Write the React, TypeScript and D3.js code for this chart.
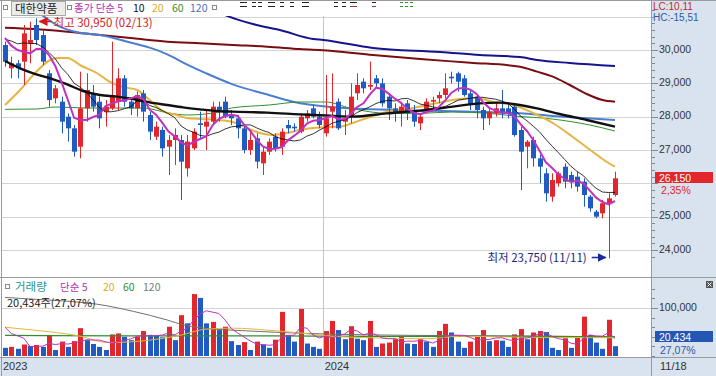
import React from 'react';
import * as d3 from 'd3';

// ---------------- DATA (weekly, 대한약품) ----------------
const firstWeek = '2023-01-09';
const opens = [30150,29450,29600,29650,30200,30750,30450,29300,28550,28450,28000,27650,27100,28250,28700,28450,28150,28250,28450,29150,28450,28250,28700,28050,27400,27600,27100,27300,27300,26450,27050,27800,27700,27850,28300,28450,28050,27950,27650,27000,27350,26600,26950,27400,27100,27750,27700,27550,27950,28250,28000,27500,28150,28450,27850,28000,28700,29050,28900,29150,29000,28600,28250,28100,28400,28200,27800,28200,28450,28550,28650,29200,29300,29150,28700,28600,28200,27950,28100,28250,28250,28300,27600,27100,27300,26750,26300,25600,26000,26500,26250,26200,26050,25600,25150,25100,25400,25650];
const highs = [30250,29800,29700,30750,30850,30950,30600,29400,28950,28600,28100,27750,29350,29300,28950,28600,28500,30250,29450,29250,28550,28750,28800,28150,27850,27700,27450,27650,27450,27450,27650,28150,28200,28450,28450,28600,28200,28050,27750,27550,27500,27100,27350,27500,27650,27900,27800,28100,28200,28350,28150,29250,29300,28550,28200,29000,29300,29150,29650,29250,29150,28700,28400,28450,28500,28350,28100,28550,28600,28750,29300,29350,29350,29250,28800,28650,28300,28300,28450,28800,28350,28400,27700,27300,27400,26850,26450,26300,26350,26600,26350,26350,26150,25650,25200,25500,25700,26350];
const lows = [29500,29150,29150,28950,29600,30150,29550,28300,28400,27500,27250,26800,26750,27850,28150,27650,27700,28200,28200,28300,28050,28000,27850,27300,27300,26800,26250,26550,25500,26200,27000,27350,27000,27750,27850,27950,27750,27350,26900,26850,26450,26250,26850,26950,26850,27500,27550,27500,27850,27950,27650,27400,27650,27600,27450,27800,28500,28700,28800,28850,28300,27900,27850,27700,27900,27700,27600,28100,28200,28400,28550,29000,28750,28600,28200,27950,27600,27750,28000,27950,27950,27400,25800,26450,26500,26000,25450,25450,25900,25850,25850,25750,25300,25150,24950,24950,23750,25600];
const closes = [29650,29600,29450,30500,30300,30300,29650,28500,28850,27850,27650,26950,28250,28800,28300,27950,28300,28600,29150,28450,28250,28650,28150,27550,27700,27050,27300,27450,26650,27250,27550,27750,27850,28300,28200,28000,27950,27650,27000,27300,26650,26950,27250,27050,27550,27650,27650,28000,28100,28000,27750,27950,28300,27650,27950,28600,28950,28850,28950,29000,28400,28250,28100,28300,28100,27850,28000,28450,28500,28650,28850,29150,29050,28650,28350,28200,27950,28150,28250,28100,28100,27450,26950,27250,26750,26500,25700,26100,26300,26050,26050,25900,25650,25250,25000,25400,25550,26150];
const volumes = [17000,19000,15000,24000,21000,23000,19000,44000,12500,30000,19000,31000,58000,33000,25000,19000,12500,45000,47000,40000,33000,40000,52000,44000,43000,39000,61000,33000,85000,68000,129000,121000,68000,71000,54000,61000,31000,23000,29000,12500,30000,24000,17000,34000,92000,44000,30000,98000,26000,19000,15000,52000,73000,54000,35000,62000,36000,33000,73000,19000,26000,28000,35000,40000,26000,25000,35000,30000,19000,52000,67000,49000,30000,17000,30000,40000,54000,31000,33000,32000,19000,45000,56000,35000,49000,52000,50000,17000,12500,37000,17000,38000,82000,44000,28000,15000,75490,20434];
// closes / volumes of the weeks just before the first drawn week (for the short averages)
const priorCloses = [30100,30300,30200,30500,30300,30750,30100,30750,30550];
const priorVolumes = [84000,40000,49000,110000];

// averages: [week index, value]
const ma20Pts = [[0,28350],[2.4,28800],[4.5,29250],[7.2,29700],[8.4,29760],[9.9,29760],[12.2,29520],[14.6,29310],[16.7,29040],[18.8,28890],[21,28800],[23,28500],[25.1,28170],[27.3,28050],[28.9,27960],[31,27930],[33.7,27900],[36.2,27840],[38.5,27660],[40.5,27510],[42.6,27450],[44.8,27510],[46.9,27600],[49,27660],[51.2,27690],[53.3,27700],[55.3,27810],[58,27990],[60.7,28140],[64.9,28260],[68.7,28410],[72.3,28530],[75,28560],[77.6,28440],[80.8,28350],[84,28110],[87.1,27810],[90.3,27390],[93.5,26940],[95.7,26640],[97,26500]];
const ma60Pts = [[0,28220],[5,28230],[8,28290],[13,28260],[18,28260],[22,28260],[26,28110],[29,28050],[34,28140],[36,28260],[42,28350],[47,28440],[51,28440],[55,28250],[61,28100],[66,28100],[71,28140],[77,28100],[81,28020],[87,27930],[93,27750],[97,27570]];
const ma120Pts = [[0,31500],[5,31150],[8.7,30700],[11.5,30530],[15.1,30450],[20.4,30200],[23,30070],[25.8,29870],[28.9,29570],[32,29300],[36.2,28970],[41.6,28670],[45.8,28450],[51.7,28290],[58.5,28220],[66.5,28180],[74.4,28150],[81.9,28100],[87.1,28020],[92.5,27950],[97,27900]];
const maBlackPts = [[0,29670],[2.4,29450],[4.5,29300],[7.2,29150],[9.9,28970],[12.4,28770],[15.1,28650],[17.8,28600],[20.4,28530],[23,28430],[25.8,28350],[28.3,28280],[31,28220],[33.7,28170],[36.2,28150],[41.7,28120],[46.9,28070],[51.7,28030],[55.3,28000],[60.7,28100],[66,28180],[71.2,28300],[75.5,28400],[78.7,28420],[80.8,28380],[84.6,28250],[88.2,28080],[92.5,27900],[97,27700]];
const maMaroonPts = [[0,30670],[4.5,30630],[9.9,30550],[15.1,30450],[20.4,30350],[25.8,30250],[31,30200],[36.2,30150],[41.7,30100],[46.9,30030],[51.7,29980],[58.5,29850],[66.5,29720],[74,29620],[81.9,29500],[84.6,29350],[87.1,29200],[89.8,28950],[92.5,28680],[95,28500],[97,28450]];
const maNavyPts = [[33,31200],[37,30910],[40,30750],[43.7,30600],[49,30330],[50.6,30300],[58.5,30060],[69.2,29940],[75.5,29850],[81.9,29790],[84.6,29700],[89.8,29610],[97,29520]];
const volMa20Pts = [[0,60000],[4.5,54000],[9.8,46000],[12.4,40000],[15.1,30000],[16.7,28000],[23,33000],[27.8,43000],[32,56000],[36.3,58000],[41.6,54000],[46.9,48000],[52.2,41000],[61.7,37000],[67,36000],[72.3,41000],[83,39000],[97,38000]];
const volMa60Pts = [[0,43000],[20,42000],[40,42000],[60,41000],[80,41000],[97,40000]];
const volMa120Pts = [[0,122000],[5,118000],[10,114000],[14.6,108000],[20.4,93000],[25.8,75000],[28.3,65000],[31,59000],[39,52000],[46.9,47500],[52,45500],[65,43000],[80,42000],[97,40000]];

const priceTicks = [24000,25000,26000,27000,28000,29000,30000,31000];
const volTicks = [100000];
const stockName = '대한약품';
const lcText = 'LC:10,11';
const hcText = 'HC:-15,51';

// ---------------- COMPONENT ----------------
const FONT = "'Noto Sans CJK KR', 'Noto Sans', sans-serif";
const NUMFONT = "'Liberation Sans', Arial, sans-serif";
const RED = '#e2262b';
const BLUE = '#1f5bc2';
const PANEL = '#d8e3ef';
const GRID = '#d3d3d3';
const BORDER = '#9a9a9a';
const FS = 10.5;

function movingAvg(values: number[], prior: number[], n: number) {
  const all = prior.concat(values);
  return values.map((_, i) => {
    const end = prior.length + i + 1;
    return d3.mean(all.slice(Math.max(0, end - n), end)) as number;
  });
}

const fmt = d3.format(',');
const pad2 = (n: number) => String(n).padStart(2, '0');

export default function App() {
  const n = closes.length;
  const x = d3.scaleLinear().domain([0, n - 1]).range([5, 615]);
  const y = d3.scaleLinear().domain([24000, 30000]).range([250, 50]);
  const yv = d3.scaleLinear().domain([0, 100000]).range([356, 308]);

  const start = new Date(firstWeek + 'T00:00:00');
  const dates = closes.map((_, i) => d3.timeDay.offset(start, i * 7));

  const ma5 = movingAvg(closes, priorCloses, 5);
  const ma10 = movingAvg(closes, priorCloses, 10);
  const vma5 = movingAvg(volumes, priorVolumes, 5);

  const lineIdx = d3.line<number>().x((_, i) => x(i)).y((v) => y(v));
  const linePts = d3.line<number[]>().x((d) => x(d[0])).y((d) => y(d[1])).curve(d3.curveMonotoneX);
  const vLineIdx = d3.line<number>().x((_, i) => x(i)).y((v) => yv(v));
  const vLinePts = d3.line<number[]>().x((d) => x(d[0])).y((d) => yv(d[1])).curve(d3.curveMonotoneX);

  const hiVal = d3.max(highs) as number;
  const hiIdx = highs.indexOf(hiVal);
  const loVal = d3.min(lows) as number;
  const loIdx = lows.indexOf(loVal);
  const md = (d: Date) => `${pad2(d.getMonth() + 1)}/${pad2(d.getDate())}`;

  const last = closes[n - 1];
  const prev = closes[n - 2];
  const pct = ((last - prev) / prev) * 100;
  const lastVol = volumes[n - 1];
  const volPct = (lastVol / volumes[n - 2]) * 100;
  const dec = (v: number) => v.toFixed(2).replace('.', ',');

  const yearStarts: number[] = [];
  dates.forEach((d, i) => {
    if (i === 0 || d.getFullYear() !== dates[i - 1].getFullYear()) yearStarts.push(i);
  });

  const minorPrice = d3.range(23800, 31400, 200);
  const minorVol = d3.range(0, 140001, 20000);
  const tagY = y(last);

  const bw = 5;

  return (
    <svg width={716} height={376} style={{ position: 'absolute', left: 0, top: 0, background: '#fff' }} fontFamily={FONT}>
      <defs>
        <clipPath id="mainClip"><rect x={2} y={16} width={649.5} height={261} /></clipPath>
        <clipPath id="volClip"><rect x={2} y={278} width={649.5} height={79} /></clipPath>
        <marker id="arrRed" viewBox="0 0 10 10" refX={9} refY={5} markerWidth={6} markerHeight={6} orient="auto">
          <path d="M0,0 L10,5 L0,10 z" fill="#d41a1a" />
        </marker>
        <marker id="arrNavy" viewBox="0 0 10 10" refX={9} refY={5} markerWidth={6} markerHeight={6} orient="auto">
          <path d="M0,0 L10,5 L0,10 z" fill="#1a2a9a" />
        </marker>
      </defs>

      <rect x={0} y={0} width={716} height={376} fill="#fff" />
      {/* panels */}
      <rect x={652} y={0} width={64} height={376} fill={PANEL} />
      <rect x={0} y={357} width={652} height={19} fill={PANEL} />

      {/* price grid */}
      {priceTicks.map((t) => (
        <line key={'g' + t} x1={2} x2={651.5} y1={Math.round(y(t)) + 0.5} y2={Math.round(y(t)) + 0.5} stroke={GRID} />
      ))}
      {volTicks.map((t) => (
        <line key={'vg' + t} x1={2} x2={651.5} y1={Math.round(yv(t)) + 0.5} y2={Math.round(yv(t)) + 0.5} stroke={GRID} />
      ))}
      {yearStarts.filter((i) => i > 0).map((i) => (
        <line key={'yl' + i} x1={Math.round(x(i - 0.5)) + 0.5} x2={Math.round(x(i - 0.5)) + 0.5} y1={16} y2={357} stroke="#c4c4c4" />
      ))}

      {/* borders */}
      <line x1={0} x2={716} y1={0.5} y2={0.5} stroke={BORDER} />
      <line x1={1.5} x2={1.5} y1={0} y2={376} stroke={BORDER} />
      <line x1={651.5} x2={651.5} y1={0} y2={376} stroke={BORDER} />
      <line x1={0} x2={716} y1={277.5} y2={277.5} stroke={BORDER} />
      <line x1={0} x2={716} y1={357.5} y2={357.5} stroke={BORDER} />

      {/* main panel */}
      <g clipPath="url(#mainClip)">
        <path d={linePts(maNavyPts as any) || ''} fill="none" stroke="#14148c" strokeWidth={2} />
        <path d={linePts(maMaroonPts as any) || ''} fill="none" stroke="#7a0d12" strokeWidth={2} />
        <path d={linePts(ma120Pts as any) || ''} fill="none" stroke="#4c7fd4" strokeWidth={2} />
        <path d={linePts(ma60Pts as any) || ''} fill="none" stroke="#2f8f2f" strokeWidth={1} />
        <path d={linePts(ma20Pts as any) || ''} fill="none" stroke="#e6b440" strokeWidth={2} />
        {closes.map((c, i) => {
          const o = opens[i];
          const up = c >= o;
          const col = up ? RED : BLUE;
          const cx = Math.round(x(i));
          const top = y(Math.max(o, c));
          const bot = y(Math.min(o, c));
          return (
            <g key={'c' + i}>
              <line x1={cx + 0.5} x2={cx + 0.5} y1={y(highs[i])} y2={y(lows[i])} stroke={col} strokeWidth={1} />
              <rect x={cx + 0.5 - bw / 2} y={top} width={bw} height={Math.max(1, bot - top)} fill={col} />
            </g>
          );
        })}
        <path d={linePts(maBlackPts as any) || ''} fill="none" stroke="#111" strokeWidth={2.4} />
        <path d={lineIdx(ma10) || ''} fill="none" stroke="#000" strokeWidth={0.8} />
        <path d={lineIdx(ma5) || ''} fill="none" stroke="#c032be" strokeWidth={2} />

        {/* high label */}
        <line x1={x(hiIdx) + 15} x2={x(hiIdx) + 3} y1={21.5} y2={21.5} stroke="#d41a1a" strokeWidth={1.5} markerEnd="url(#arrRed)" />
        <text x={x(hiIdx) + 17} y={26.5} fontSize={11.5} fill="#d41a1a">{`최고 ${fmt(hiVal)} (${md(dates[hiIdx])})`}</text>
        {/* low label */}
        <text x={x(loIdx) - 22} y={261.5} fontSize={11.5} fill="#1a237e" textAnchor="end">{`최저 ${fmt(loVal)} (${md(dates[loIdx])})`}</text>
        <line x1={x(loIdx) - 17} x2={x(loIdx) - 3} y1={257.5} y2={257.5} stroke="#1a2a9a" strokeWidth={1.5} markerEnd="url(#arrNavy)" />
      </g>

      {/* volume panel */}
      <g clipPath="url(#volClip)">
        {volumes.map((v, i) => {
          const prevV = i === 0 ? priorVolumes[priorVolumes.length - 1] : volumes[i - 1];
          const col = v > prevV ? RED : BLUE;
          const cx = Math.round(x(i));
          return <rect key={'v' + i} x={cx + 0.5 - bw / 2} y={yv(v)} width={bw} height={yv(0) - yv(v)} fill={col} />;
        })}
        <path d={vLinePts(volMa120Pts as any) || ''} fill="none" stroke="#707070" strokeWidth={1} />
        <path d={vLinePts(volMa60Pts as any) || ''} fill="none" stroke="#2f8f2f" strokeWidth={1.2} />
        <path d={vLinePts(volMa20Pts as any) || ''} fill="none" stroke="#e6b440" strokeWidth={1} />
        <path d={vLineIdx(vma5) || ''} fill="none" stroke="#c032be" strokeWidth={1} />
      </g>

      {/* top legend */}
      <rect x={3.5} y={5.5} width={4} height={4} fill="#fff" stroke="#888" />
      <rect x={11.5} y={1.5} width={54} height={14} fill="#ecebe6" stroke="#a8a8a8" />
      <text x={15} y={12.5} fontSize={11.5} fill="#222">{stockName}</text>
      <rect x={67.5} y={5.5} width={4} height={4} fill="#fff" stroke="#888" />
      <text x={74} y={12} fontSize={FS} fill="#b530b3">종가 단순 5</text>
      <text x={133} y={12} fontSize={FS} fill="#111">10</text>
      <text x={152} y={12} fontSize={FS} fill="#d9ac22">20</text>
      <text x={172} y={12} fontSize={FS} fill="#2f8f2f">60</text>
      <text x={190} y={12} fontSize={FS} fill="#4e6fb8">120</text>
      <rect x={212.5} y={5.5} width={4} height={4} fill="#fff" stroke="#888" />
      {[240, 252, 258, 268, 280, 290, 302, 334, 342, 350, 372].map((sx, k) => (
        <g key={'dash' + k}>
          <rect x={sx} y={2} width={k % 3 === 0 ? 7 : 4} height={1} fill="#222" />
          <rect x={sx} y={6} width={k % 3 === 0 ? 7 : 4} height={1} fill={k > 8 ? '#b03030' : '#222'} />
        </g>
      ))}
      {[400, 405, 410].map((sx) => (
        <g key={'gd' + sx}>
          <rect x={sx} y={2} width={3} height={1} fill="#2f8f2f" />
          <rect x={sx} y={6} width={3} height={1} fill="#2f8f2f" />
        </g>
      ))}

      {/* volume legend */}
      <rect x={5.5} y={284.5} width={4} height={4} fill="#fff" stroke="#888" />
      <text x={15} y={290.5} fontSize={11.5} fill="#2a9595">거래량</text>
      <text x={60} y={290.5} fontSize={FS} fill="#b530b3">단순 5</text>
      <text x={103} y={290.5} fontSize={FS} fill="#d9ac22">20</text>
      <text x={123} y={290.5} fontSize={FS} fill="#2f8f2f">60</text>
      <text x={143} y={290.5} fontSize={FS} fill="#777">120</text>
      <text x={7} y={307} fontSize={11} fill="#222">{`${fmt(lastVol)}주(${dec(volPct)}%)`}</text>

      {/* right axis */}
      <g fontFamily={NUMFONT}>
        <text x={653} y={9.5} fontSize={10} fill="#c42a2a">{lcText}</text>
        <text x={653} y={21} fontSize={10} fill="#2a5aa8">{hcText}</text>
        {minorPrice.map((t) => (
          <line key={'mt' + t} x1={652} x2={655} y1={Math.round(y(t)) + 0.5} y2={Math.round(y(t)) + 0.5} stroke="#7d8a99" />
        ))}
        {priceTicks.filter((t) => t < 31000).map((t) => (
          <g key={'pt' + t}>
            <line x1={652} x2={658} y1={Math.round(y(t)) + 0.5} y2={Math.round(y(t)) + 0.5} stroke="#7d8a99" />
            {Math.abs(y(t) - tagY) > 10 && (
              <text x={659} y={y(t) + 2.5} fontSize={FS} fill="#333">{fmt(t)}</text>
            )}
          </g>
        ))}
        <rect x={655} y={172} width={58} height={11} fill={RED} />
        <text x={659} y={181.5} fontSize={FS} fill="#fff">{fmt(last)}</text>
        <text x={661} y={194} fontSize={FS} fill={RED}>{`${dec(pct)}%`}</text>

        {minorVol.map((t) => (
          <line key={'mv' + t} x1={652} x2={655} y1={Math.round(yv(t)) + 0.5} y2={Math.round(yv(t)) + 0.5} stroke="#7d8a99" />
        ))}
        {volTicks.map((t) => (
          <g key={'vt' + t}>
            <line x1={652} x2={658} y1={Math.round(yv(t)) + 0.5} y2={Math.round(yv(t)) + 0.5} stroke="#7d8a99" />
            <text x={659} y={yv(t) + 2.5} fontSize={FS} fill="#333">{fmt(t)}</text>
          </g>
        ))}
        <rect x={655} y={331} width={58} height={11} fill="#2456b4" />
        <text x={659} y={340.5} fontSize={FS} fill="#fff">{fmt(lastVol)}</text>
        <text x={660} y={353.5} fontSize={FS} fill="#2a5aa8">{`${dec(volPct)}%`}</text>
        <text x={660} y={370} fontSize={11} fill="#333">{md(dates[n - 1]).replace(/^0/, '')}</text>
      </g>
      <rect x={706} y={281} width={7} height={7} fill="#555" />
      <path d="M707.5,282.5 L711.5,286.5 M711.5,282.5 L707.5,286.5" stroke="#fff" strokeWidth={1} />

      {/* bottom axis */}
      {yearStarts.map((i) => (
        <text key={'yr' + i} x={i === 0 ? 3 : x(i) - 1} y={370} fontSize={11} fill="#333" fontFamily={NUMFONT}>{dates[i].getFullYear()}</text>
      ))}
    </svg>
  );
}
